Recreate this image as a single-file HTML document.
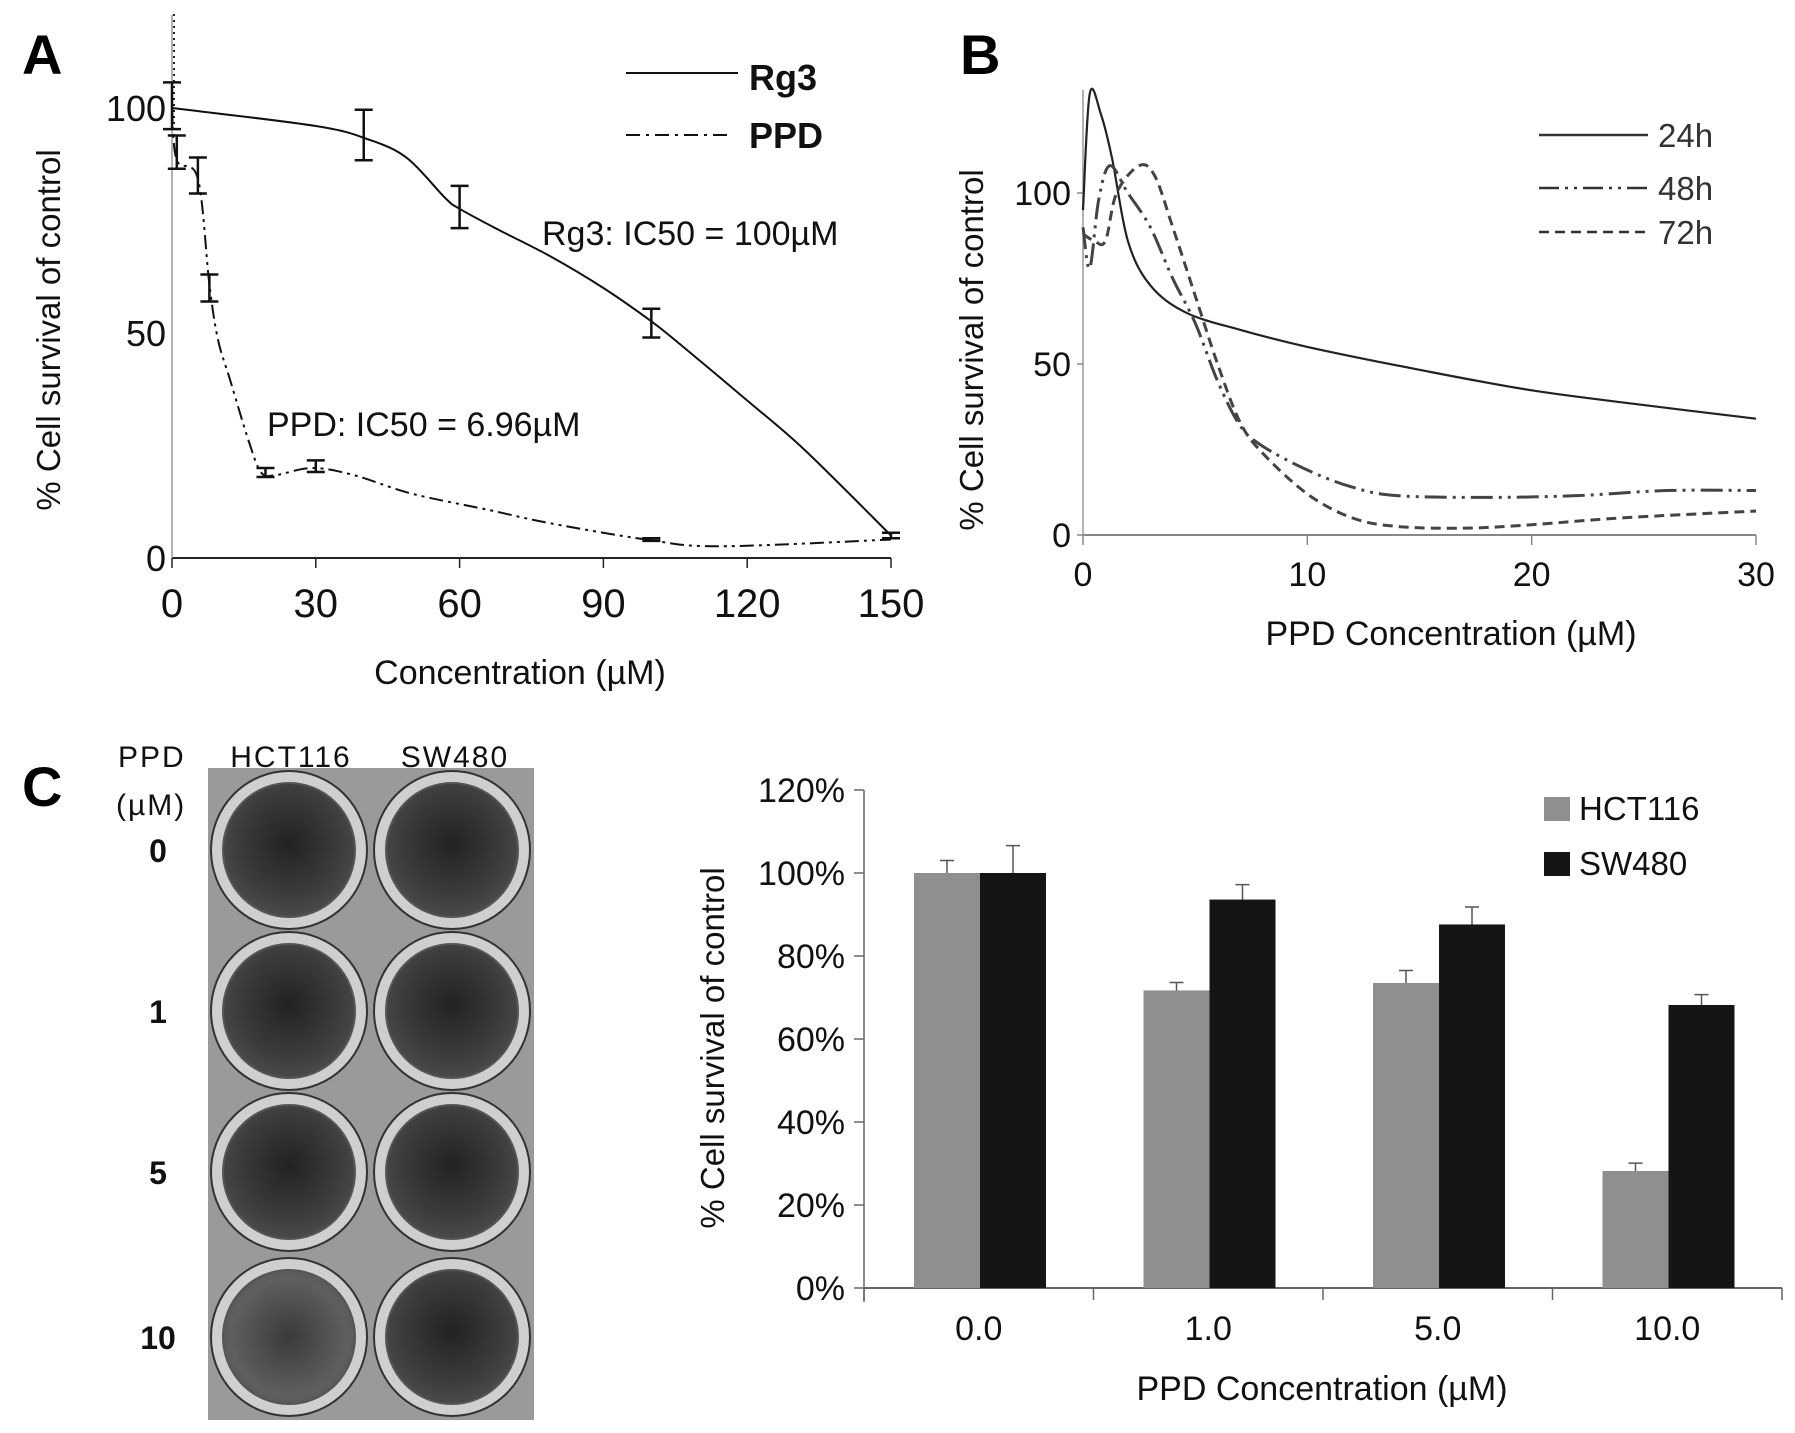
<!DOCTYPE html>
<html><head><meta charset="utf-8">
<style>
html,body{margin:0;padding:0;background:#fff;}
svg{display:block;font-family:"Liberation Sans Narrow","Liberation Sans",sans-serif;}
</style></head>
<body>
<svg id="fig" width="1795" height="1433" viewBox="0 0 1795 1433" xmlns="http://www.w3.org/2000/svg">
<defs>
<radialGradient id="wellg" cx="50%" cy="45%" r="55%">
<stop offset="0" stop-color="#222"/><stop offset="0.7" stop-color="#3c3c3c"/><stop offset="1" stop-color="#4a4a4a"/>
</radialGradient>
<radialGradient id="wellg2" cx="50%" cy="50%" r="55%">
<stop offset="0" stop-color="#3a3a3a"/><stop offset="0.8" stop-color="#5f5f5f"/><stop offset="1" stop-color="#555"/>
</radialGradient>
</defs>
<g id="panelA"></g>
<g id="panelB"></g>
<g id="panelC"></g>
</svg>
<script>
// ---------- Panel A data ----------
const aRg3X = [0, 30, 41, 49, 57, 60, 68, 79, 90, 100, 106, 120, 132, 150];
const aRg3Y = [100, 96, 93, 88.9, 80, 77.6, 73, 67, 60, 52.6, 47.5, 35, 24, 5];
const aRg3ErrX = [40, 60, 100, 150];
const aRg3ErrM = [94, 78, 52.2, 5];
const aRg3ErrD = [5.6, 4.7, 3.2, 0.6];
const aPpdX = [0, 1, 5.4, 7.8, 9.6, 12, 16, 18.6, 21.5, 29.3, 38, 50, 66, 79, 99, 114, 150];
const aPpdY = [100, 88.4, 84.3, 60.8, 48.5, 40, 26, 19, 18.4, 20, 18.4, 14.3, 10.7, 7.7, 4.1, 2.6, 4.1];
const aPpdErrX = [0, 1, 5.4, 7.8, 19.5, 30, 100];
const aPpdErrM = [100.5, 90.2, 85, 60, 19, 20.4, 4.1];
const aPpdErrD = [5.2, 3.7, 4, 3, 1, 1.3, 0.3];
const aXTicks = [0, 30, 60, 90, 120, 150];
const aYTicks = [0, 50, 100];
// ---------- Panel B data ----------
const b24X = [0, 0.3, 0.8, 1.3, 2, 3, 4.6, 7, 10, 15, 20, 25, 30];
const b24Y = [95, 129, 123, 110, 86, 73, 65, 60, 55, 48.3, 42.3, 38, 34];
const b48X = [0, 0.3, 0.7, 1.2, 2, 3, 4, 5, 6, 7, 8, 10, 12, 14, 18, 22, 26, 30];
const b48Y = [90, 78, 98, 108, 100, 90, 75, 62, 45, 32, 26, 19, 14, 11.5, 11, 11.5, 13, 13];
const b72X = [0, 0.5, 1, 1.5, 2.5, 3.2, 4, 5, 6, 7, 8, 10, 12, 14, 17, 20, 24, 30];
const b72Y = [88, 86, 86, 100, 108, 105, 90, 70, 50, 33, 24, 12, 5, 2.5, 2, 3, 5, 7];
const bXTicks = [0, 10, 20, 30];
const bYTicks = [0, 50, 100];
// ---------- Panel C data ----------
const cCats = ["0.0", "1.0", "5.0", "10.0"];
const cHct = [100, 71.7, 73.5, 28.2];
const cHctErr = [3, 1.9, 3, 1.9];
const cSw = [100, 93.6, 87.6, 68.2];
const cSwErr = [6.6, 3.6, 4.2, 2.5];
const cYTicks = [0, 20, 40, 60, 80, 100, 120];
const cYTickLabels = ["0%", "20%", "40%", "60%", "80%", "100%", "120%"];
const wellRows = ["0", "1", "5", "10"];

const NS = "http://www.w3.org/2000/svg";
function mk(parent, tag, attrs, text){
  const e = document.createElementNS(NS, tag);
  for (const k in attrs) e.setAttribute(k, attrs[k]);
  if (text !== undefined) e.textContent = text;
  parent.appendChild(e);
  return e;
}
function smooth(pts){
  let d = "M" + pts[0][0] + "," + pts[0][1];
  for (let i = 0; i < pts.length - 1; i++){
    const p0 = pts[Math.max(0,i-1)], p1 = pts[i], p2 = pts[i+1], p3 = pts[Math.min(pts.length-1,i+2)];
    const c1x = p1[0] + (p2[0]-p0[0])/6, c1y = p1[1] + (p2[1]-p0[1])/6;
    const c2x = p2[0] - (p3[0]-p1[0])/6, c2y = p2[1] - (p3[1]-p1[1])/6;
    d += " C" + c1x + "," + c1y + " " + c2x + "," + c2y + " " + p2[0] + "," + p2[1];
  }
  return d;
}

// ================= PANEL A =================
(function(){
  const g = document.getElementById("panelA");
  const X = v => 172 + (v/150)*(891-172);
  const Y = v => 558 - (v/100)*(558-108);
  let e;
  e = mk(g,"text",{x:22,y:74,"font-size":56,"font-weight":"bold","font-family":"Liberation Sans, sans-serif"},"A");
   
  e = mk(g,"line",{x1:172,y1:558,x2:891,y2:558,stroke:"#222","stroke-width":2});
   
  e = mk(g,"line",{x1:172,y1:558,x2:172,y2:15,stroke:"#999","stroke-width":1.5});
   
  e = mk(g,"line",{x1:174,y1:14,x2:174,y2:140,stroke:"#222","stroke-width":2,"stroke-dasharray":"2,4"});
   
  aXTicks.forEach(t=>{
    e = mk(g,"line",{x1:X(t),y1:558,x2:X(t),y2:568,stroke:"#222","stroke-width":1.5});
     
    e = mk(g,"text",{x:X(t),y:617,"font-size":40,"text-anchor":"middle",fill:"#111"},String(t));
     
  });
  aYTicks.forEach(t=>{
    e = mk(g,"text",{x:166,y:Y(t)+13,"font-size":36,"text-anchor":"end",fill:"#111"},String(t));
     
  });
  e = mk(g,"text",{x:0,y:0,"font-size":33,"text-anchor":"middle",fill:"#111","font-family":"Liberation Sans, sans-serif",transform:"translate(60,330) rotate(-90)"},"% Cell survival of control");
   
  e = mk(g,"text",{x:520,y:684,"font-size":34,"text-anchor":"middle",fill:"#111","font-family":"Liberation Sans, sans-serif"},"Concentration (µM)");
   
  // series
  e = mk(g,"path",{d:smooth(aRg3X.map((v,i)=>[X(v),Y(aRg3Y[i])])),fill:"none",stroke:"#111","stroke-width":2});
   
  e = mk(g,"path",{d:smooth(aPpdX.map((v,i)=>[X(v),Y(aPpdY[i])])),fill:"none",stroke:"#111","stroke-width":2,"stroke-dasharray":"14,5,3,5,3,5"});
   
  function errs(xs,ms,ds,name){
    xs.forEach((x,i)=>{
      const cx=X(x), y1=Y(ms[i]+ds[i]), y2=Y(ms[i]-ds[i]);
      e = mk(g,"path",{d:`M${cx},${y1}V${y2}M${cx-9},${y1}H${cx+9}M${cx-9},${y2}H${cx+9}`,stroke:"#111","stroke-width":2.5,fill:"none"});
       
    });
  }
  errs(aRg3ErrX,aRg3ErrM,aRg3ErrD,'rg3-error-bar');
  errs(aPpdErrX,aPpdErrM,aPpdErrD,'ppd-error-bar');
  e = mk(g,"text",{x:542,y:245,"font-size":34,fill:"#111"},"Rg3: IC50 = 100µM");
   
  e = mk(g,"text",{x:267,y:436,"font-size":34,fill:"#111"},"PPD: IC50 = 6.96µM");
   
  // legend
  e = mk(g,"line",{x1:626,y1:73,x2:738,y2:73,stroke:"#111","stroke-width":2});
   
  e = mk(g,"text",{x:749,y:90,"font-size":36,"font-weight":"bold",fill:"#111","font-family":"Liberation Sans, sans-serif"},"Rg3");
   
  e = mk(g,"line",{x1:626,y1:135,x2:730,y2:135,stroke:"#111","stroke-width":2,"stroke-dasharray":"14,6,3,6"});
   
  e = mk(g,"text",{x:749,y:148,"font-size":36,"font-weight":"bold",fill:"#111","font-family":"Liberation Sans, sans-serif"},"PPD");
   
})();

// ================= PANEL B =================
(function(){
  const g = document.getElementById("panelB");
  const X = v => 1083 + (v/30)*(1756-1083);
  const Y = v => 535 - (v/100)*(535-193);
  let e;
  e = mk(g,"text",{x:960,y:74,"font-size":56,"font-weight":"bold","font-family":"Liberation Sans, sans-serif"},"B");
   
  e = mk(g,"line",{x1:1083,y1:535,x2:1756,y2:535,stroke:"#888","stroke-width":2});
   
  e = mk(g,"line",{x1:1083,y1:535,x2:1083,y2:90,stroke:"#999","stroke-width":1.5});
   
  bXTicks.forEach(t=>{
    e = mk(g,"line",{x1:X(t),y1:535,x2:X(t),y2:545,stroke:"#888","stroke-width":1.5});
     
    e = mk(g,"text",{x:X(t),y:586,"font-size":34,"text-anchor":"middle",fill:"#111"},String(t));
     
  });
  bYTicks.forEach(t=>{
    e = mk(g,"line",{x1:1077,y1:Y(t),x2:1083,y2:Y(t),stroke:"#888","stroke-width":1.5});
     
    e = mk(g,"text",{x:1071,y:Y(t)+12,"font-size":34,"text-anchor":"end",fill:"#111"},String(t));
     
  });
  e = mk(g,"text",{x:0,y:0,"font-size":33,"text-anchor":"middle",fill:"#111","font-family":"Liberation Sans, sans-serif",transform:"translate(983,350) rotate(-90)"},"% Cell survival of control");
   
  e = mk(g,"text",{x:1451,y:645,"font-size":34,"text-anchor":"middle",fill:"#111","font-family":"Liberation Sans, sans-serif"},"PPD Concentration (µM)");
   
  e = mk(g,"path",{d:smooth(b24X.map((v,i)=>[X(v),Y(b24Y[i])])),fill:"none",stroke:"#222","stroke-width":2.2});
   
  e = mk(g,"path",{d:smooth(b48X.map((v,i)=>[X(v),Y(b48Y[i])])),fill:"none",stroke:"#444","stroke-width":3,"stroke-dasharray":"22,6,3,6,3,6"});
   
  e = mk(g,"path",{d:smooth(b72X.map((v,i)=>[X(v),Y(b72Y[i])])),fill:"none",stroke:"#444","stroke-width":3,"stroke-dasharray":"10,6"});
   
  const leg = [["24h",135,"none"],["48h",188,"20,6,3,6,3,6"],["72h",232,"10,6"]];
  leg.forEach(l=>{
    e = mk(g,"line",{x1:1539,y1:l[1],x2:1648,y2:l[1],stroke:"#333","stroke-width":2.5,"stroke-dasharray":l[2]});
     
    e = mk(g,"text",{x:1658,y:l[1]+12,"font-size":33,fill:"#333"},l[0]);
     
  });
})();

// ================= PANEL C =================
(function(){
  const g = document.getElementById("panelC");
  let e;
  e = mk(g,"text",{x:22,y:806,"font-size":56,"font-weight":"bold","font-family":"Liberation Sans, sans-serif"},"C");
   
  e = mk(g,"text",{x:118,y:767,"font-size":30,fill:"#111","font-family":"Liberation Sans, sans-serif","letter-spacing":"2"},"PPD");
   
  e = mk(g,"text",{x:116,y:815,"font-size":30,fill:"#111","font-family":"Liberation Sans, sans-serif","letter-spacing":"2"},"(µM)");
   
  e = mk(g,"text",{x:291,y:767,"font-size":30,fill:"#111","text-anchor":"middle","font-family":"Liberation Sans, sans-serif","letter-spacing":"2"},"HCT116");
   
  e = mk(g,"text",{x:455,y:767,"font-size":30,fill:"#111","text-anchor":"middle","font-family":"Liberation Sans, sans-serif","letter-spacing":"2"},"SW480");
   
  e = mk(g,"rect",{x:208,y:768,width:326,height:652,fill:"#9a9a9a"});
   
  const rowsY = [850, 1011, 1172, 1337];
  const colsX = [289, 452];
  rowsY.forEach((cy,r)=>{
    e = mk(g,"text",{x:158,y:cy+12,"font-size":32,"font-weight":"bold","text-anchor":"middle",fill:"#111","font-family":"Liberation Sans, sans-serif"},wellRows[r]);
     
    colsX.forEach((cx,c)=>{
      e = mk(g,"ellipse",{cx:cx,cy:cy,rx:78,ry:79,fill:"#cfcfcf",stroke:"#333","stroke-width":2});
       
      e = mk(g,"ellipse",{cx:cx,cy:cy,rx:66,ry:67,fill:(r===3&&c===0)?"url(#wellg2)":"url(#wellg)",stroke:"#555","stroke-width":2});
       
    });
  });
  // bar chart
  const Y = v => 1288 - (v/120)*(1288-790);
  const gx0 = 864, gw = 229.5;
  e = mk(g,"line",{x1:864,y1:1288,x2:1782,y2:1288,stroke:"#666","stroke-width":2});
   
  e = mk(g,"line",{x1:864,y1:790,x2:864,y2:1302,stroke:"#666","stroke-width":1.5});
   
  cYTicks.forEach((t,i)=>{
    e = mk(g,"line",{x1:854,y1:Y(t),x2:864,y2:Y(t),stroke:"#666","stroke-width":1.5});
     
    e = mk(g,"text",{x:845,y:Y(t)+12,"font-size":34,"text-anchor":"end",fill:"#111"},cYTickLabels[i]);
     
  });
  for (let i=0;i<=cCats.length;i++){
    e = mk(g,"line",{x1:gx0+i*gw,y1:1288,x2:gx0+i*gw,y2:1300,stroke:"#666","stroke-width":1.5});
     
  }
  cCats.forEach((c,i)=>{
    const gs = gx0 + i*gw;
    const hx = gs + 50, sx = gs + 116, bw = 66;
    e = mk(g,"rect",{x:hx,y:Y(cHct[i]),width:bw,height:Y(0)-Y(cHct[i]),fill:"#8f8f8f"});
     
    e = mk(g,"rect",{x:sx,y:Y(cSw[i]),width:bw,height:Y(0)-Y(cSw[i]),fill:"#151515"});
     
    [[hx,cHct[i],cHctErr[i],'hct116'],[sx,cSw[i],cSwErr[i],'sw480']].forEach(b=>{
      const cx=b[0]+bw/2, yt=Y(b[1]+b[2]);
      e = mk(g,"path",{d:`M${cx},${Y(b[1])}V${yt}M${cx-7},${yt}H${cx+7}`,stroke:"#555","stroke-width":1.5,fill:"none"});
       
    });
    e = mk(g,"text",{x:gs+gw/2,y:1340,"font-size":34,"text-anchor":"middle",fill:"#111"},c);
     
  });
  e = mk(g,"text",{x:1322,y:1400,"font-size":34,"text-anchor":"middle",fill:"#111","font-family":"Liberation Sans, sans-serif"},"PPD Concentration (µM)");
   
  e = mk(g,"text",{x:0,y:0,"font-size":33,"text-anchor":"middle",fill:"#111","font-family":"Liberation Sans, sans-serif",transform:"translate(724,1048) rotate(-90)"},"% Cell survival of control");
   
  e = mk(g,"rect",{x:1544,y:797,width:26,height:24,fill:"#8f8f8f"});
   
  e = mk(g,"text",{x:1579,y:820,"font-size":33,fill:"#111"},"HCT116");
   
  e = mk(g,"rect",{x:1544,y:852,width:26,height:24,fill:"#151515"});
   
  e = mk(g,"text",{x:1579,y:875,"font-size":33,fill:"#111"},"SW480");
   
})();
</script>
</body></html>
